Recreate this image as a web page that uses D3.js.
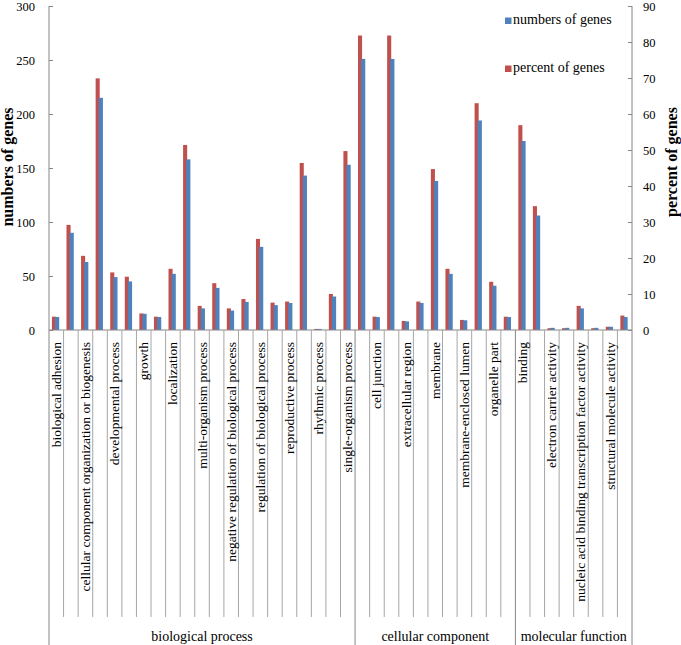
<!DOCTYPE html>
<html>
<head>
<meta charset="utf-8">
<script src="https://cdn.jsdelivr.net/npm/d3@7"></script>
<style>
  html, body { margin: 0; padding: 0; background: #fff; }
  svg { display: block; }
  text { font-family: "Liberation Serif", "Times New Roman", serif; fill: #000; }
</style>
</head>
<body>
<svg id="chart" width="681" height="645"></svg>
<script>
// ---- data ----
const categories = [
  "biological adhesion", "biological regulation",
  "cellular component organization or biogenesis", "cellular process",
  "developmental process", "establishment of localization",
  "growth", "immune system process",
  "localization", "metabolic process",
  "multi-organism process", "multicellular organismal process",
  "negative regulation of biological process", "positive regulation of biological process",
  "regulation of biological process", "reproduction",
  "reproductive process", "response to stimulus",
  "rhythmic process", "signaling",
  "single-organism process",
  "cell", "cell junction", "cell part", "extracellular region",
  "macromolecular complex", "membrane", "membrane part",
  "membrane-enclosed lumen", "organelle", "organelle part", "synapse",
  "binding", "catalytic activity", "electron carrier activity",
  "enzyme regulator activity", "nucleic acid binding transcription factor activity",
  "receptor activity", "structural molecule activity", "transporter activity"
];
// which category labels the original axis actually prints (every other one)
const shownLabel = categories.map((c, i) => i % 2 === 0);

const groups = ["biological process", "cellular component", "molecular function"];
const groupSizes = [21, 11, 8];

const numbersOfGenes = [
  12, 90, 63, 215, 49, 45, 15, 12, 52, 158,
  20, 39, 18, 26, 77, 23, 25, 143, 1, 31,
  153,
  251, 12, 251, 8, 25, 138, 52, 9, 194, 41, 12,
  175, 106, 2, 2, 20, 2, 3, 12
];
const percentOfGenes = [
  3.7, 29.2, 20.6, 69.9, 16.0, 14.8, 4.6, 3.7, 17.0, 51.4,
  6.7, 13.0, 6.0, 8.6, 25.3, 7.6, 7.9, 46.4, 0.3, 10.0,
  49.7,
  81.8, 3.7, 81.8, 2.5, 7.9, 44.7, 17.0, 2.8, 63.0, 13.4, 3.7,
  56.9, 34.4, 0.5, 0.5, 6.7, 0.5, 0.9, 4.0
];
const leftTicks = [0, 50, 100, 150, 200, 250, 300];
const rightTicks = [0, 10, 20, 30, 40, 50, 60, 70, 80, 90];
const seriesNames = ["numbers of genes", "percent of genes"];

// ---- layout ----
const FONT = "'Liberation Serif', 'Times New Roman', serif";
const svg = d3.select("#chart");
const L = 49, R = 632, T = 6, B = 330;
const colBlue = "#4F81BD", colRed = "#C0504D";
const axisCol = "#868686", tickLineCol = "#a6a6a6";

const x = d3.scaleBand().domain(categories).range([L, R]).padding(0);
const yL = d3.scaleLinear().domain([0, 300]).range([B, T]);
const yR = d3.scaleLinear().domain([0, 90]).range([B, T]);
const bw = x.bandwidth();

// bars
const red = svg.append("g");
red.selectAll("rect").data(categories).join("rect")
  .attr("x", d => x(d) + bw * 0.2)
  .attr("width", bw * 0.28)
  .attr("y", (d, i) => yR(percentOfGenes[i]))
  .attr("height", (d, i) => B - yR(percentOfGenes[i]))
  .attr("fill", colRed);
const blue = svg.append("g");
blue.selectAll("rect").data(categories).join("rect")
  .attr("x", d => x(d) + bw * 0.41)
  .attr("width", bw * 0.29)
  .attr("y", (d, i) => yL(numbersOfGenes[i]))
  .attr("height", (d, i) => B - yL(numbersOfGenes[i]))
  .attr("fill", colBlue);

// left axis
const gL = svg.append("g").attr("transform", `translate(${L},0)`)
  .call(d3.axisLeft(yL).tickValues(leftTicks).tickSize(-4).tickPadding(14));
gL.attr("font-family", FONT);
gL.select(".domain").remove();
gL.selectAll(".tick line").attr("stroke", axisCol);
gL.selectAll(".tick text").attr("font-size", 12.5).attr("font-family", FONT);
svg.append("line").attr("x1", L).attr("x2", L).attr("y1", T).attr("y2", 645)
  .attr("stroke", axisCol);

// right axis
const gR = svg.append("g").attr("transform", `translate(${R},0)`)
  .call(d3.axisRight(yR).tickValues(rightTicks).tickSize(-4).tickPadding(11));
gR.attr("font-family", FONT);
gR.select(".domain").remove();
gR.selectAll(".tick line").attr("stroke", axisCol);
gR.selectAll(".tick text").attr("font-size", 12.5).attr("font-family", FONT);
svg.append("line").attr("x1", R).attr("x2", R).attr("y1", T).attr("y2", 645)
  .attr("stroke", axisCol);

// baseline
svg.append("line").attr("x1", L).attr("x2", R).attr("y1", B).attr("y2", B)
  .attr("stroke", axisCol);

// category separators
const groupStarts = [];
let acc = 0;
groupSizes.forEach(s => { groupStarts.push(acc); acc += s; });
const boundaries = d3.range(1, categories.length);
svg.append("g").selectAll("line").data(boundaries).join("line")
  .attr("x1", i => x(categories[i])).attr("x2", i => x(categories[i]))
  .attr("y1", B).attr("y2", i => groupStarts.includes(i) ? 645 : 617)
  .attr("stroke", i => groupStarts.includes(i) ? axisCol : tickLineCol);

// category labels
svg.append("g").attr("font-family", FONT)
  .selectAll("text").data(categories.filter((c, i) => shownLabel[i])).join("text")
  .attr("transform", d => `translate(${x(d) + bw / 2 + 4.5},342) rotate(-90)`)
  .attr("text-anchor", "end")
  .attr("font-size", 13.5)
  .text(d => d);

// group labels
svg.append("g").attr("font-family", FONT)
  .selectAll("text").data(groups).join("text")
  .attr("x", (g, i) => {
    const a = x(categories[groupStarts[i]]);
    const b = x(categories[groupStarts[i] + groupSizes[i] - 1]) + bw;
    return (a + b) / 2;
  })
  .attr("y", 641)
  .attr("text-anchor", "middle")
  .attr("font-size", 14)
  .text(d => d);

// axis titles
svg.append("text").attr("transform", "translate(13,167) rotate(-90)")
  .attr("font-family", FONT)
  .attr("text-anchor", "middle").attr("font-size", 16).attr("font-weight", "bold")
  .text(seriesNames[0]);
svg.append("text").attr("transform", "translate(677,162) rotate(-90)")
  .attr("font-family", FONT)
  .attr("text-anchor", "middle").attr("font-size", 16).attr("font-weight", "bold")
  .text(seriesNames[1]);

// legend
const legend = svg.append("g").attr("font-family", FONT);
const legY = [17.5, 65.5];
const legCol = [colBlue, colRed];
seriesNames.forEach((n, i) => {
  legend.append("rect").attr("x", 505).attr("y", legY[i]).attr("width", 6.5).attr("height", 6.5)
    .attr("fill", legCol[i]);
  legend.append("text").attr("x", 513).attr("y", legY[i] + 6.5).attr("font-size", 14).text(n);
});
</script>
</body>
</html>
